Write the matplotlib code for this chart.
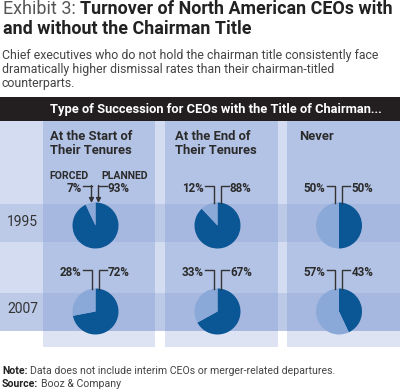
import matplotlib
matplotlib.use("Agg")
import matplotlib.pyplot as plt
from matplotlib.patches import Rectangle

# ---- data ----
categories = ["At the Start of\nTheir Tenures", "At the End of\nTheir Tenures", "Never"]
years = ["1995", "2007"]
forced_1995 = [7, 12, 50]
planned_1995 = [93, 88, 50]
forced_2007 = [28, 33, 57]
planned_2007 = [72, 67, 43]

plt.rcParams['font.family'] = ['Roboto', 'DejaVu Sans']

W, H = 400, 391
fig = plt.figure(figsize=(W / 100, H / 100), dpi=100)
ax = fig.add_axes([0, 0, 1, 1])

def Y(y):
    return H - y

DARK = '#0b5694'
LIGHT = '#8ba9d8'
TXT = '#2b2b2b'
GRAY = '#444444'

# pies first (ax.pie resets limits)
pie_cx = [95.5, 217.5, 339]
pie_cy = [225.5, 311.5]
R = 23
rows = [(forced_1995, planned_1995), (forced_2007, planned_2007)]
for ri, (forced, planned) in enumerate(rows):
    for ci in range(3):
        ax.pie([planned[ci], forced[ci]], colors=[DARK, LIGHT], startangle=90,
               counterclock=False, center=(pie_cx[ci], Y(pie_cy[ri])), radius=R,
               wedgeprops=dict(linewidth=0, zorder=6), frame=True)

ax.set_xlim(0, W)
ax.set_ylim(0, H)
ax.set_aspect('auto')
ax.axis('off')

# background blocks
ax.add_patch(Rectangle((0, Y(331)), 400, 331 - 121, color='#d3dcf0', lw=0, zorder=0))
col_x = [(43, 155), (165, 278), (287, 400)]
for x0, x1 in col_x:
    ax.add_patch(Rectangle((x0, Y(331)), x1 - x0, 331 - 121, color='#b3c3e6', lw=0, zorder=1))
    ax.add_patch(Rectangle((x0, Y(347)), x1 - x0, 347 - 331, color='#dde3f3', lw=0, zorder=1))
for y0, y1 in [(204, 242), (293, 331)]:
    ax.add_patch(Rectangle((0, Y(y1)), 400, y1 - y0, color='#8aa0d4', alpha=0.3, lw=0, zorder=2))

# black header bar
ax.add_patch(Rectangle((0, Y(121)), 400, 24, color='#231f20', lw=0, zorder=3))
ax.text(50, Y(109.5), "Type of Succession for CEOs with the Title of Chairman...",
        color='white', fontsize=9.25, fontweight='bold', va='center', ha='left', zorder=4)

renderer = fig.canvas.get_renderer()

def right_edge(t):
    bb = t.get_window_extent(renderer)
    return ax.transData.inverted().transform((bb.x1, bb.y0))[0]

# title
t1 = ax.text(3, Y(9), "Exhibit 3:", color='#555555', fontsize=13, va='center', ha='left')
ax.text(right_edge(t1) + 4, Y(9), "Turnover of North American CEOs with", color='#222222',
        fontsize=12.9, fontweight='bold', va='center', ha='left')
ax.text(3, Y(29.5), "and without the Chairman Title", color='#222222',
        fontsize=12.9, fontweight='bold', va='center', ha='left')

# subtitle
for i, line in enumerate(["Chief executives who do not hold the chairman title consistently face",
                          "dramatically higher dismissal rates than their chairman-titled",
                          "counterparts."]):
    ax.text(2, Y(55 + 14 * i), line, color=GRAY, fontsize=8.9, va='center', ha='left')

# column headers
hdr_x = [50, 175, 299]
for cx, cat in zip(hdr_x, categories):
    ax.text(cx, Y(130), cat, color=TXT, fontsize=9.4, fontweight='bold', va='top', ha='left',
            linespacing=1.12, zorder=5)

# row labels
for yy, lab in zip([222, 309], years):
    ax.text(7, Y(yy), lab, color='#333333', fontsize=10, va='center', ha='left', zorder=5)

# pie labels and leader lines
lbl_y = [188, 272.5]
lc = '#333333'
for ri, (forced, planned) in enumerate(rows):
    cy = pie_cy[ri]
    for ci in range(3):
        cx = pie_cx[ci]
        ly = lbl_y[ri]
        line_y = ly - 2.5
        top = cy - R + 0.5
        xl = cx - 4
        xr = cx + 3
        if ri == 0 and ci == 0:
            ax.plot([cx - 12.5, xl], [Y(line_y), Y(line_y)], color=lc, lw=1, zorder=7)
            ax.plot([xr + 8, xr], [Y(line_y), Y(line_y)], color=lc, lw=1, zorder=7)
            for xx in (xl, xr):
                ax.annotate("", xy=(xx, Y(top)), xytext=(xx, Y(line_y)),
                            arrowprops=dict(arrowstyle='-|>', color=lc, lw=1,
                                            mutation_scale=7, shrinkA=0, shrinkB=0), zorder=7)
            ax.text(89, Y(176), "FORCED", color=TXT, fontsize=7.6, fontweight='bold',
                    va='center', ha='right', zorder=7)
            ax.text(101.5, Y(176), "PLANNED", color=TXT, fontsize=7.6, fontweight='bold',
                    va='center', ha='left', zorder=7)
        else:
            ax.plot([cx - 12.5, xl, xl], [Y(line_y), Y(line_y), Y(top)], color=lc, lw=1, zorder=7)
            ax.plot([xr + 8, xr, xr], [Y(line_y), Y(line_y), Y(top)], color=lc, lw=1, zorder=7)
        ax.text(cx - 14, Y(ly), f"{forced[ci]}%", color=TXT, fontsize=8.4, fontweight='bold',
                va='center', ha='right', zorder=7)
        ax.text(xr + 9.5, Y(ly), f"{planned[ci]}%", color=TXT, fontsize=8.4, fontweight='bold',
                va='center', ha='left', zorder=7)

# notes
n1 = ax.text(2, Y(371), "Note:", color='#222222', fontsize=7.6, fontweight='bold', va='center', ha='left')
ax.text(right_edge(n1) + 3, Y(371), "Data does not include interim CEOs or merger-related departures.",
        color=GRAY, fontsize=7.6, va='center', ha='left')
n2 = ax.text(2, Y(384), "Source:", color='#222222', fontsize=7.6, fontweight='bold', va='center', ha='left')
ax.text(right_edge(n2) + 3, Y(384), "Booz & Company", color=GRAY, fontsize=7.6, va='center', ha='left')

fig.savefig("out.png", dpi=100)
